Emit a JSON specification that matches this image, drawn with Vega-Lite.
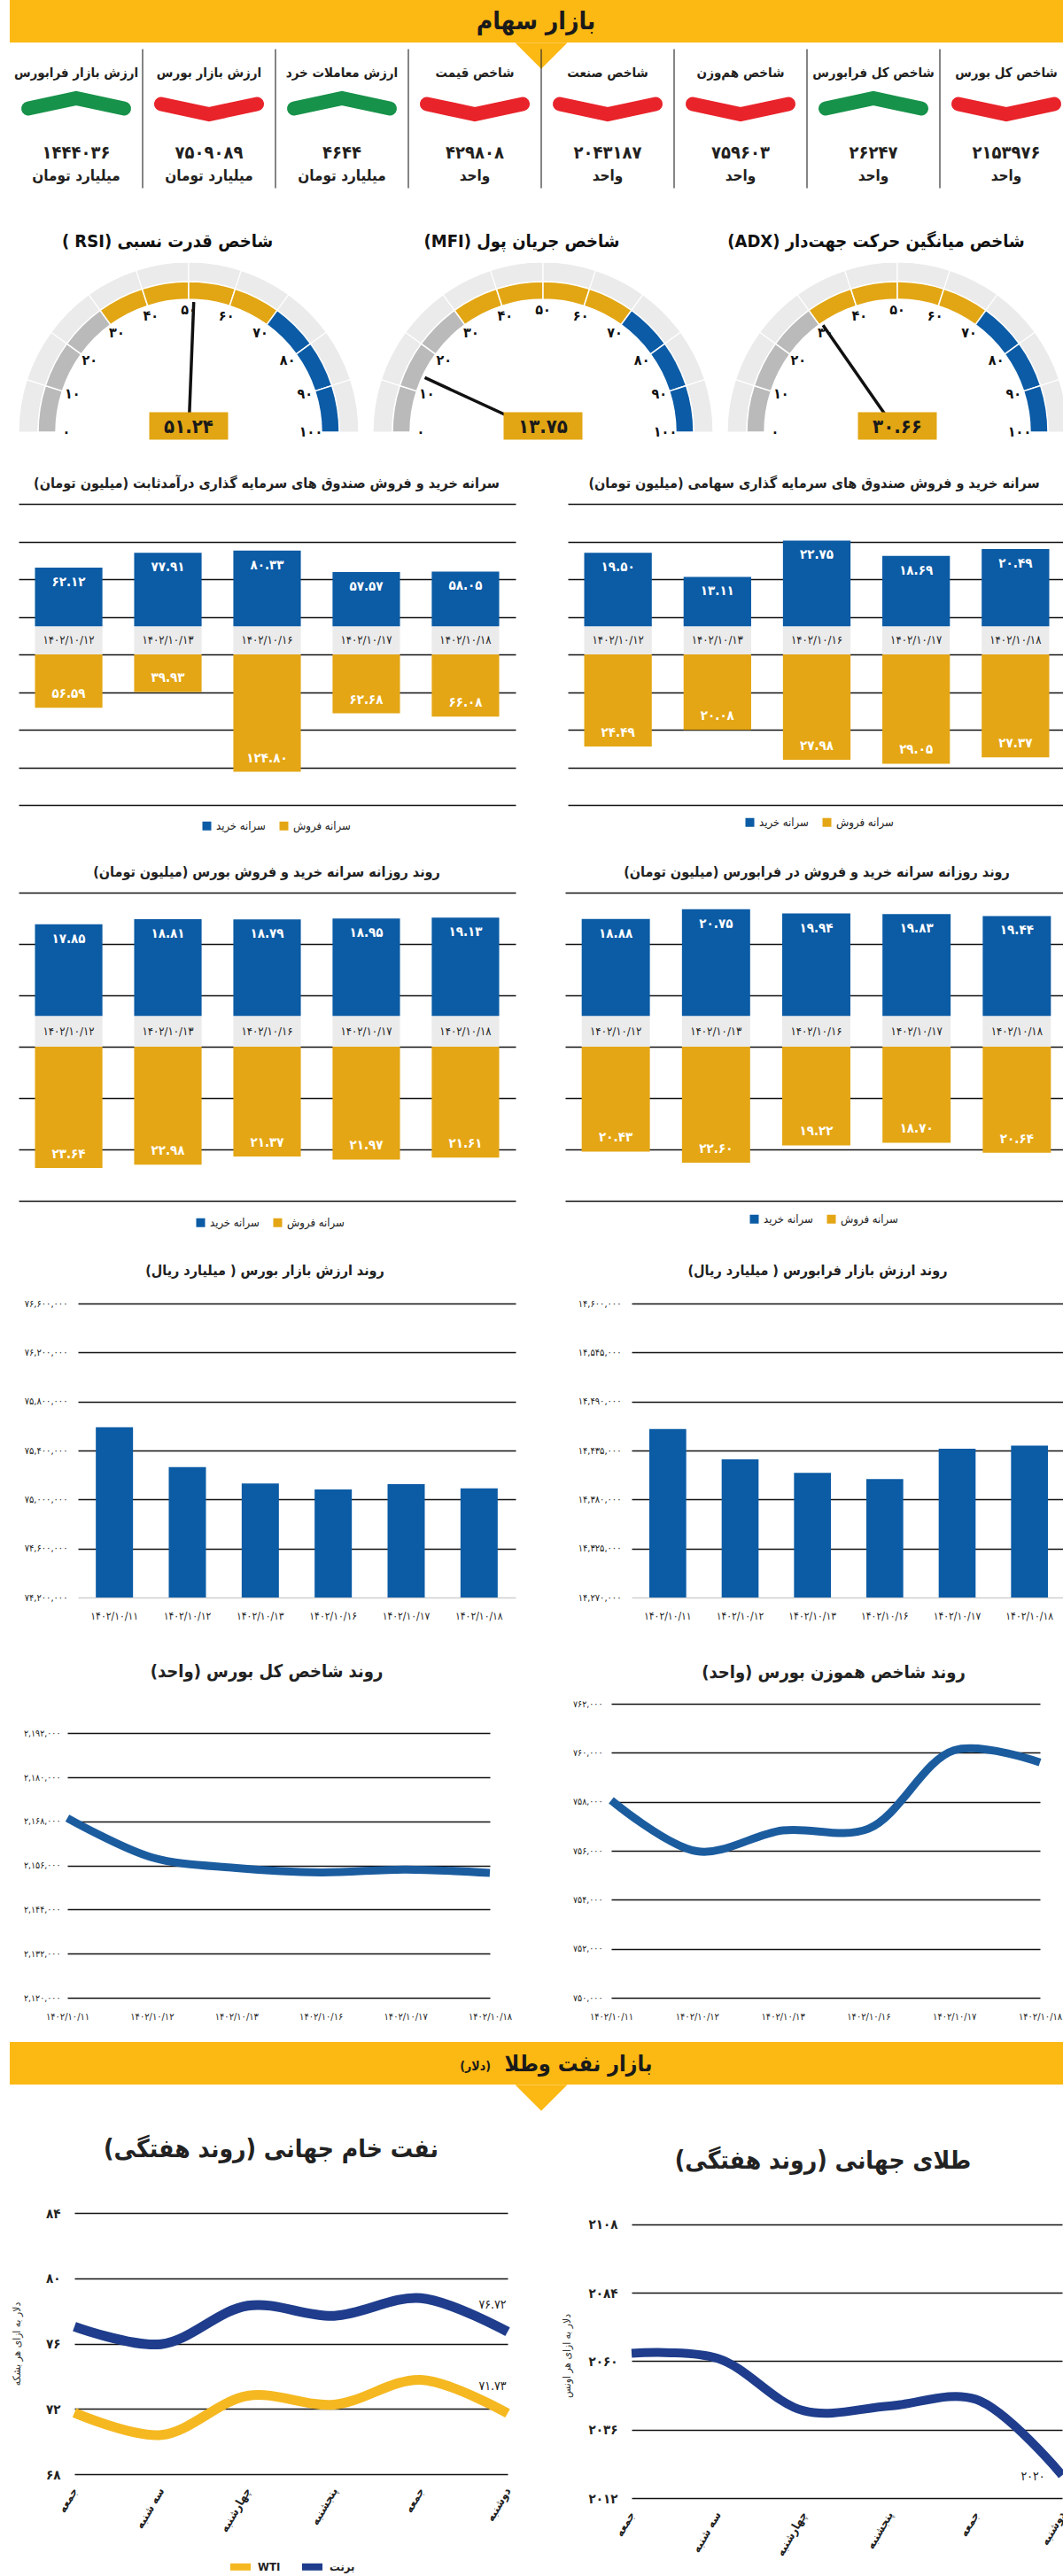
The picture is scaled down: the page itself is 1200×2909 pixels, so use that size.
{
 "$schema": "https://vega.github.io/schema/vega-lite/v6.json",
 "background": "white",
 "padding": 0,
 "columns": 2,
 "spacing": 0,
 "bounds": "flush",
 "align": {"row": "each", "column": "each"},
 "resolve": {"scale": {"color": "independent", "shape": "independent"}},
 "datasets": {
  "ind": [
   {"n": "ارزش بازار فرابورس", "v": 1444036, "u": "میلیارد تومان", "dir": "up"},
   {"n": "ارزش بازار بورس", "v": 7509089, "u": "میلیارد تومان", "dir": "down"},
   {"n": "ارزش معاملات خرد", "v": 4644, "u": "میلیارد تومان", "dir": "up"},
   {"n": "شاخص قیمت", "v": 429808, "u": "واحد", "dir": "down"},
   {"n": "شاخص صنعت", "v": 2043187, "u": "واحد", "dir": "down"},
   {"n": "شاخص هم‌وزن", "v": 759603, "u": "واحد", "dir": "down"},
   {"n": "شاخص کل فرابورس", "v": 26247, "u": "واحد", "dir": "up"},
   {"n": "شاخص کل بورس", "v": 2153976, "u": "واحد", "dir": "down"}
  ],
  "seg": [
   {"a": 0, "b": 10, "zone": "low", "g": ["RSI", "MFI", "ADX"]},
   {"a": 10, "b": 20, "zone": "low", "g": ["RSI", "MFI", "ADX"]},
   {"a": 20, "b": 30, "zone": "low", "g": ["RSI", "MFI", "ADX"]},
   {"a": 30, "b": 40, "zone": "mid", "g": ["RSI", "MFI", "ADX"]},
   {"a": 40, "b": 50, "zone": "mid", "g": ["RSI", "MFI", "ADX"]},
   {"a": 50, "b": 60, "zone": "mid", "g": ["RSI", "MFI", "ADX"]},
   {"a": 60, "b": 70, "zone": "mid", "g": ["RSI", "MFI", "ADX"]},
   {"a": 70, "b": 80, "zone": "high", "g": ["RSI", "MFI", "ADX"]},
   {"a": 80, "b": 90, "zone": "high", "g": ["RSI", "MFI", "ADX"]},
   {"a": 90, "b": 100, "zone": "high", "g": ["RSI", "MFI", "ADX"]}
  ],
  "ticks": [
   {"t": 0, "g": ["RSI", "MFI", "ADX"]}, {"t": 10, "g": ["RSI", "MFI", "ADX"]},
   {"t": 20, "g": ["RSI", "MFI", "ADX"]}, {"t": 30, "g": ["RSI", "MFI", "ADX"]},
   {"t": 40, "g": ["RSI", "MFI", "ADX"]}, {"t": 50, "g": ["RSI", "MFI", "ADX"]},
   {"t": 60, "g": ["RSI", "MFI", "ADX"]}, {"t": 70, "g": ["RSI", "MFI", "ADX"]},
   {"t": 80, "g": ["RSI", "MFI", "ADX"]}, {"t": 90, "g": ["RSI", "MFI", "ADX"]},
   {"t": 100, "g": ["RSI", "MFI", "ADX"]}
  ],
  "gauges": [
   {"g": "RSI", "v": 51.24, "title": "( RSI) شاخص قدرت نسبی"},
   {"g": "MFI", "v": 13.75, "title": "(MFI) شاخص جریان پول"},
   {"g": "ADX", "v": 30.66, "title": "(ADX) شاخص میانگین حرکت جهت‌دار"}
  ]
 },
 "concat": [
  {
   "width": 600, "height": 48,
   "data": {"values": [{"t": "بازار سهام"}]},
   "layer": [
    {"mark": {"type": "rect", "color": "#fcb813"},
     "encoding": {
      "x": {"datum": 0, "type": "quantitative", "scale": {"domain": [0, 1], "range": [0, 1200]}, "axis": null},
      "x2": {"datum": 1},
      "y": {"datum": 0, "type": "quantitative", "scale": {"domain": [0, 1]}, "axis": null},
      "y2": {"datum": 1}}},
    {"mark": {"type": "point", "shape": "M-1,-0.5L1,-0.5L0,0.5Z", "size": 3481, "filled": true, "color": "#fcb813", "opacity": 1},
     "encoding": {"x": {"datum": 0.5, "type": "quantitative"}, "y": {"datum": -0.31, "type": "quantitative"}}},
    {"mark": {"type": "text", "fontSize": 28, "fontWeight": "bold", "color": "#1a1a1a", "baseline": "middle"},
     "encoding": {"x": {"datum": 0.495, "type": "quantitative"}, "y": {"datum": 0.47, "type": "quantitative"}, "text": {"field": "t"}}}
   ]
  },
  {"width": 0, "height": 0, "data": {"values": []}, "mark": "point"},

  {
   "width": 600, "height": 187,
   "data": {"name": "ind"},
   "layer": [
    {"transform": [{"filter": "datum.n != 'ارزش بازار فرابورس'"}],
     "mark": {"type": "rule", "color": "#333333", "strokeWidth": 1.2},
     "encoding": {
      "x": {"field": "n", "type": "nominal", "bandPosition": 0, "scale": {"domain": ["ارزش بازار فرابورس", "ارزش بازار بورس", "ارزش معاملات خرد", "شاخص قیمت", "شاخص صنعت", "شاخص هم‌وزن", "شاخص کل فرابورس", "شاخص کل بورس"], "range": [0, 1200], "paddingInner": 0, "paddingOuter": 0}, "axis": null},
      "y": {"datum": 8, "type": "quantitative", "scale": {"domain": [187, 0]}, "axis": null},
      "y2": {"datum": 176}}},
    {"mark": {"type": "text", "fontSize": 15, "fontWeight": "bold", "color": "#231f20", "baseline": "middle"},
     "encoding": {
      "x": {"field": "n", "type": "nominal"},
      "y": {"datum": 36, "type": "quantitative"},
      "text": {"field": "n"}}},
    {"mark": {"type": "point", "size": 15625, "filled": false, "strokeWidth": 16, "strokeCap": "round", "strokeJoin": "miter", "opacity": 1},
     "encoding": {
      "x": {"field": "n", "type": "nominal"},
      "y": {"datum": 77, "type": "quantitative"},
      "shape": {"field": "dir", "type": "nominal", "scale": {"domain": ["down", "up"], "range": ["M-0.864,-0.04L0,0.144L0.864,-0.04", "M-0.864,0.04L0,-0.144L0.864,0.04"]}, "legend": null},
      "color": {"field": "dir", "type": "nominal", "scale": {"domain": ["down", "up"], "range": ["#e8232a", "#17924a"]}, "legend": null}}},
    {"mark": {"type": "text", "fontSize": 20, "fontWeight": "bold", "color": "#231f20", "baseline": "middle"},
     "encoding": {
      "x": {"field": "n", "type": "nominal"},
      "y": {"datum": 134, "type": "quantitative"},
      "text": {"field": "v", "type": "quantitative", "format": "d"}}},
    {"mark": {"type": "text", "fontSize": 17, "fontWeight": "bold", "color": "#231f20", "baseline": "middle"},
     "encoding": {
      "x": {"field": "n", "type": "nominal"},
      "y": {"datum": 162, "type": "quantitative"},
      "text": {"field": "u"}}}
   ]
  },
  {"width": 0, "height": 0, "data": {"values": []}, "mark": "point"},

  {
   "width": 600, "height": 253,
   "layer": [
    {"data": {"name": "seg"}, "transform": [{"flatten": ["g"]}],
     "mark": {"type": "arc", "radius": 192, "radius2": 170, "fill": "#ebebeb", "stroke": "#ffffff", "strokeWidth": 1.2},
     "encoding": {
      "x": {"field": "g", "type": "nominal", "scale": {"type": "point", "domain": ["RSI", "MFI", "ADX"], "range": [202, 1002], "padding": 0}, "axis": null},
      "y": {"datum": 0, "type": "quantitative", "scale": {"domain": [0, 1]}, "axis": null},
      "theta": {"field": "a", "type": "quantitative", "stack": null, "scale": {"domain": [0, 100], "range": [-1.5708, 1.5708]}},
      "theta2": {"field": "b"}}},
    {"data": {"name": "seg"}, "transform": [{"flatten": ["g"]}],
     "mark": {"type": "arc", "radius": 170, "radius2": 150, "stroke": "#ffffff", "strokeWidth": 1.5},
     "encoding": {
      "x": {"field": "g", "type": "nominal"},
      "y": {"datum": 0, "type": "quantitative"},
      "theta": {"field": "a", "type": "quantitative", "stack": null},
      "theta2": {"field": "b"},
      "color": {"field": "zone", "type": "nominal", "scale": {"domain": ["low", "mid", "high"], "range": ["#bababa", "#e2a614", "#0b5ba6"]}, "legend": null}}},
    {"data": {"name": "ticks"}, "transform": [{"flatten": ["g"]}],
     "mark": {"type": "text", "radius": 138, "fontSize": 16, "fontWeight": "bold", "color": "#111111", "baseline": "middle"},
     "encoding": {
      "x": {"field": "g", "type": "nominal"},
      "y": {"datum": 0, "type": "quantitative"},
      "theta": {"field": "t", "type": "quantitative", "stack": null},
      "text": {"field": "t", "type": "quantitative", "format": "d"}}},
    {"data": {"name": "gauges"},
     "mark": {"type": "arc", "radius": 147, "radius2": 0, "stroke": "#111111", "strokeWidth": 3.5, "fill": "#111111"},
     "encoding": {
      "x": {"field": "g", "type": "nominal"},
      "y": {"datum": 0, "type": "quantitative"},
      "theta": {"field": "v", "type": "quantitative", "stack": null},
      "theta2": {"field": "v"}}},
    {"data": {"name": "gauges"},
     "mark": {"type": "point", "shape": "M-1,-0.35L1,-0.35L1,0.35L-1,0.35Z", "size": 7921, "filled": true, "color": "#e2a614", "opacity": 1, "yOffset": -7},
     "encoding": {
      "x": {"field": "g", "type": "nominal"},
      "y": {"datum": 0, "type": "quantitative"}}},
    {"data": {"name": "gauges"},
     "mark": {"type": "text", "fontSize": 22, "fontWeight": "bold", "color": "#1a1a1a", "baseline": "middle", "yOffset": -6},
     "encoding": {
      "x": {"field": "g", "type": "nominal"},
      "y": {"datum": 0, "type": "quantitative"},
      "text": {"field": "v", "type": "quantitative", "format": ".2f"}}},
    {"data": {"name": "gauges"},
     "mark": {"type": "text", "radius": 215, "dx": -24, "fontSize": 20, "fontWeight": "bold", "color": "#111111", "baseline": "middle"},
     "encoding": {
      "x": {"field": "g", "type": "nominal"},
      "y": {"datum": 0, "type": "quantitative"},
      "theta": {"datum": 50, "type": "quantitative"},
      "text": {"field": "title"}}}
   ]
  },
  {"width": 0, "height": 0, "data": {"values": []}, "mark": "point"},

  {"width": 0, "height": 81, "data": {"values": []}, "mark": "point"},
  {"width": 0, "height": 0, "data": {"values": []}, "mark": "point"},

  {
   "width": 600, "height": 340,
   "title": {"text": "‏سرانه خرید و فروش صندوق های سرمایه گذاری درآمدثابت (میلیون تومان)‏", "offset": 15, "dx": -10, "fontSize": 16},
   "data": {"values": [
    {"d": "۱۴۰۲/۱۰/۱۲", "buy": 62.12, "sell": 56.59},
    {"d": "۱۴۰۲/۱۰/۱۳", "buy": 77.91, "sell": 39.93},
    {"d": "۱۴۰۲/۱۰/۱۶", "buy": 80.33, "sell": 124.80},
    {"d": "۱۴۰۲/۱۰/۱۷", "buy": 57.57, "sell": 62.68},
    {"d": "۱۴۰۲/۱۰/۱۸", "buy": 58.05, "sell": 66.08}
   ]},
   "encoding": {"x": {"field": "d", "type": "ordinal", "sort": null, "scale": {"range": [10, 571], "paddingInner": 0.32, "paddingOuter": 0.165}, "axis": null}},
   "layer": [
    {"encoding": {"y": {"field": "sell", "type": "quantitative", "scale": {"domain": [-160, 160], "reverse": true, "nice": false, "zero": false}, "axis": {"grid": true, "values": [-160, -120, -80, -40, 0, 40, 80, 120, 160], "labels": false, "ticks": false, "domain": false, "title": null}}},
     "layer": [
      {"mark": {"type": "bar"}, "encoding": {"y2": {"datum": 0}, "color": {"datum": "سرانه فروش", "type": "nominal", "scale": {"domain": ["سرانه خرید", "سرانه فروش"], "range": ["#0b5ba5", "#e4a615"]}, "legend": {"orient": "none", "legendX": 216, "legendY": 357, "direction": "horizontal", "title": null, "symbolType": "square", "symbolSize": 100, "symbolStrokeWidth": 0, "labelFontSize": 13, "columnPadding": 14}}}},
      {"mark": {"type": "text", "color": "white", "fontWeight": "bold", "fontSize": 15, "baseline": "middle", "dy": -16}, "encoding": {"text": {"field": "sell", "type": "quantitative", "format": ".2f"}}}
     ]},
    {"encoding": {"y": {"field": "buy", "type": "quantitative", "scale": {"domain": [-190, 130], "nice": false, "zero": false}, "axis": null}},
     "layer": [
      {"mark": {"type": "bar", "color": "#ebebeb"}, "encoding": {"y": {"datum": 0, "type": "quantitative"}, "y2": {"datum": -30}}},
      {"mark": {"type": "text", "fontSize": 13, "color": "#222222", "baseline": "middle"}, "encoding": {"y": {"datum": -15, "type": "quantitative"}, "text": {"field": "d"}}},
      {"mark": {"type": "bar"}, "encoding": {"y2": {"datum": 0}, "color": {"datum": "سرانه خرید", "type": "nominal", "scale": {"domain": ["سرانه خرید", "سرانه فروش"], "range": ["#0b5ba5", "#e4a615"]}, "legend": {"orient": "none", "legendX": 216, "legendY": 357, "direction": "horizontal", "title": null, "symbolType": "square", "symbolSize": 100, "symbolStrokeWidth": 0, "labelFontSize": 13, "columnPadding": 14}}}},
      {"mark": {"type": "text", "color": "white", "fontWeight": "bold", "fontSize": 15, "baseline": "middle", "dy": 16}, "encoding": {"text": {"field": "buy", "type": "quantitative", "format": ".2f"}}}
     ]}
   ],
   "resolve": {"scale": {"y": "independent"}}
  },
  {
   "width": 600, "height": 340,
   "title": {"text": "‏سرانه خرید و فروش صندوق های سرمایه گذاری سهامی (میلیون تومان)‏", "offset": 15, "dx": 8, "fontSize": 16},
   "data": {"values": [
    {"d": "۱۴۰۲/۱۰/۱۲", "buy": 19.50, "sell": 24.49},
    {"d": "۱۴۰۲/۱۰/۱۳", "buy": 13.11, "sell": 20.08},
    {"d": "۱۴۰۲/۱۰/۱۶", "buy": 22.75, "sell": 27.98},
    {"d": "۱۴۰۲/۱۰/۱۷", "buy": 18.69, "sell": 29.05},
    {"d": "۱۴۰۲/۱۰/۱۸", "buy": 20.49, "sell": 27.37}
   ]},
   "encoding": {"x": {"field": "d", "type": "ordinal", "sort": null, "scale": {"range": [30, 592], "paddingInner": 0.32, "paddingOuter": 0.165}, "axis": null}},
   "layer": [
    {"encoding": {"y": {"field": "sell", "type": "quantitative", "scale": {"domain": [-40, 40], "reverse": true, "nice": false, "zero": false}, "axis": {"grid": true, "values": [-40, -30, -20, -10, 0, 10, 20, 30, 40], "labels": false, "ticks": false, "domain": false, "title": null}}},
     "layer": [
      {"mark": {"type": "bar"}, "encoding": {"y2": {"datum": 0}, "color": {"datum": "سرانه فروش", "type": "nominal", "scale": {"domain": ["سرانه خرید", "سرانه فروش"], "range": ["#0b5ba5", "#e4a615"]}, "legend": {"orient": "none", "legendX": 229, "legendY": 353, "direction": "horizontal", "title": null, "symbolType": "square", "symbolSize": 100, "symbolStrokeWidth": 0, "labelFontSize": 13, "columnPadding": 14}}}},
      {"mark": {"type": "text", "color": "white", "fontWeight": "bold", "fontSize": 15, "baseline": "middle", "dy": -16}, "encoding": {"text": {"field": "sell", "type": "quantitative", "format": ".2f"}}}
     ]},
    {"encoding": {"y": {"field": "buy", "type": "quantitative", "scale": {"domain": [-47.5, 32.5], "nice": false, "zero": false}, "axis": null}},
     "layer": [
      {"mark": {"type": "bar", "color": "#ebebeb"}, "encoding": {"y": {"datum": 0, "type": "quantitative"}, "y2": {"datum": -7.5}}},
      {"mark": {"type": "text", "fontSize": 13, "color": "#222222", "baseline": "middle"}, "encoding": {"y": {"datum": -3.75, "type": "quantitative"}, "text": {"field": "d"}}},
      {"mark": {"type": "bar"}, "encoding": {"y2": {"datum": 0}, "color": {"datum": "سرانه خرید", "type": "nominal", "scale": {"domain": ["سرانه خرید", "سرانه فروش"], "range": ["#0b5ba5", "#e4a615"]}, "legend": {"orient": "none", "legendX": 229, "legendY": 353, "direction": "horizontal", "title": null, "symbolType": "square", "symbolSize": 100, "symbolStrokeWidth": 0, "labelFontSize": 13, "columnPadding": 14}}}},
      {"mark": {"type": "text", "color": "white", "fontWeight": "bold", "fontSize": 15, "baseline": "middle", "dy": 16}, "encoding": {"text": {"field": "buy", "type": "quantitative", "format": ".2f"}}}
     ]}
   ],
   "resolve": {"scale": {"y": "independent"}}
  },

  {"width": 0, "height": 99, "data": {"values": []}, "mark": "point"},
  {"width": 0, "height": 0, "data": {"values": []}, "mark": "point"},

  {
   "width": 600, "height": 348,
   "title": {"text": "‏روند روزانه سرانه خرید و فروش بورس (میلیون تومان)‏", "offset": 15, "dx": -10, "fontSize": 16},
   "data": {"values": [
    {"d": "۱۴۰۲/۱۰/۱۲", "buy": 17.85, "sell": 23.64},
    {"d": "۱۴۰۲/۱۰/۱۳", "buy": 18.81, "sell": 22.98},
    {"d": "۱۴۰۲/۱۰/۱۶", "buy": 18.79, "sell": 21.37},
    {"d": "۱۴۰۲/۱۰/۱۷", "buy": 18.95, "sell": 21.97},
    {"d": "۱۴۰۲/۱۰/۱۸", "buy": 19.13, "sell": 21.61}
   ]},
   "encoding": {"x": {"field": "d", "type": "ordinal", "sort": null, "scale": {"range": [10, 571], "paddingInner": 0.32, "paddingOuter": 0.165}, "axis": null}},
   "layer": [
    {"encoding": {"y": {"field": "sell", "type": "quantitative", "scale": {"domain": [-30, 30], "reverse": true, "nice": false, "zero": false}, "axis": {"grid": true, "values": [-30, -20, -10, 0, 10, 20, 30], "labels": false, "ticks": false, "domain": false, "title": null}}},
     "layer": [
      {"mark": {"type": "bar"}, "encoding": {"y2": {"datum": 0}, "color": {"datum": "سرانه فروش", "type": "nominal", "scale": {"domain": ["سرانه خرید", "سرانه فروش"], "range": ["#0b5ba5", "#e4a615"]}, "legend": {"orient": "none", "legendX": 209, "legendY": 366, "direction": "horizontal", "title": null, "symbolType": "square", "symbolSize": 100, "symbolStrokeWidth": 0, "labelFontSize": 13, "columnPadding": 14}}}},
      {"mark": {"type": "text", "color": "white", "fontWeight": "bold", "fontSize": 15, "baseline": "middle", "dy": -16}, "encoding": {"text": {"field": "sell", "type": "quantitative", "format": ".2f"}}}
     ]},
    {"encoding": {"y": {"field": "buy", "type": "quantitative", "scale": {"domain": [-36, 24], "nice": false, "zero": false}, "axis": null}},
     "layer": [
      {"mark": {"type": "bar", "color": "#ebebeb"}, "encoding": {"y": {"datum": 0, "type": "quantitative"}, "y2": {"datum": -6}}},
      {"mark": {"type": "text", "fontSize": 13, "color": "#222222", "baseline": "middle"}, "encoding": {"y": {"datum": -3, "type": "quantitative"}, "text": {"field": "d"}}},
      {"mark": {"type": "bar"}, "encoding": {"y2": {"datum": 0}, "color": {"datum": "سرانه خرید", "type": "nominal", "scale": {"domain": ["سرانه خرید", "سرانه فروش"], "range": ["#0b5ba5", "#e4a615"]}, "legend": {"orient": "none", "legendX": 209, "legendY": 366, "direction": "horizontal", "title": null, "symbolType": "square", "symbolSize": 100, "symbolStrokeWidth": 0, "labelFontSize": 13, "columnPadding": 14}}}},
      {"mark": {"type": "text", "color": "white", "fontWeight": "bold", "fontSize": 15, "baseline": "middle", "dy": 16}, "encoding": {"text": {"field": "buy", "type": "quantitative", "format": ".2f"}}}
     ]}
   ],
   "resolve": {"scale": {"y": "independent"}}
  },
  {
   "width": 600, "height": 348,
   "title": {"text": "‏روند روزانه سرانه خرید و فروش در فرابورس (میلیون تومان)‏", "offset": 15, "dx": 11, "fontSize": 16},
   "data": {"values": [
    {"d": "۱۴۰۲/۱۰/۱۲", "buy": 18.88, "sell": 20.43},
    {"d": "۱۴۰۲/۱۰/۱۳", "buy": 20.75, "sell": 22.60},
    {"d": "۱۴۰۲/۱۰/۱۶", "buy": 19.94, "sell": 19.22},
    {"d": "۱۴۰۲/۱۰/۱۷", "buy": 19.83, "sell": 18.70},
    {"d": "۱۴۰۲/۱۰/۱۸", "buy": 19.44, "sell": 20.64}
   ]},
   "encoding": {"x": {"field": "d", "type": "ordinal", "sort": null, "scale": {"range": [27, 594], "paddingInner": 0.32, "paddingOuter": 0.165}, "axis": null}},
   "layer": [
    {"encoding": {"y": {"field": "sell", "type": "quantitative", "scale": {"domain": [-30, 30], "reverse": true, "nice": false, "zero": false}, "axis": {"grid": true, "values": [-30, -20, -10, 0, 10, 20, 30], "labels": false, "ticks": false, "domain": false, "title": null}}},
     "layer": [
      {"mark": {"type": "bar"}, "encoding": {"y2": {"datum": 0}, "color": {"datum": "سرانه فروش", "type": "nominal", "scale": {"domain": ["سرانه خرید", "سرانه فروش"], "range": ["#0b5ba5", "#e4a615"]}, "legend": {"orient": "none", "legendX": 234, "legendY": 362, "direction": "horizontal", "title": null, "symbolType": "square", "symbolSize": 100, "symbolStrokeWidth": 0, "labelFontSize": 13, "columnPadding": 14}}}},
      {"mark": {"type": "text", "color": "white", "fontWeight": "bold", "fontSize": 15, "baseline": "middle", "dy": -16}, "encoding": {"text": {"field": "sell", "type": "quantitative", "format": ".2f"}}}
     ]},
    {"encoding": {"y": {"field": "buy", "type": "quantitative", "scale": {"domain": [-36, 24], "nice": false, "zero": false}, "axis": null}},
     "layer": [
      {"mark": {"type": "bar", "color": "#ebebeb"}, "encoding": {"y": {"datum": 0, "type": "quantitative"}, "y2": {"datum": -6}}},
      {"mark": {"type": "text", "fontSize": 13, "color": "#222222", "baseline": "middle"}, "encoding": {"y": {"datum": -3, "type": "quantitative"}, "text": {"field": "d"}}},
      {"mark": {"type": "bar"}, "encoding": {"y2": {"datum": 0}, "color": {"datum": "سرانه خرید", "type": "nominal", "scale": {"domain": ["سرانه خرید", "سرانه فروش"], "range": ["#0b5ba5", "#e4a615"]}, "legend": {"orient": "none", "legendX": 234, "legendY": 362, "direction": "horizontal", "title": null, "symbolType": "square", "symbolSize": 100, "symbolStrokeWidth": 0, "labelFontSize": 13, "columnPadding": 14}}}},
      {"mark": {"type": "text", "color": "white", "fontWeight": "bold", "fontSize": 15, "baseline": "middle", "dy": 16}, "encoding": {"text": {"field": "buy", "type": "quantitative", "format": ".2f"}}}
     ]}
   ],
   "resolve": {"scale": {"y": "independent"}}
  },

  {"width": 0, "height": 116, "data": {"values": []}, "mark": "point"},
  {"width": 0, "height": 0, "data": {"values": []}, "mark": "point"},

  {
   "width": 600, "height": 332,
   "title": {"text": "‏روند ارزش بازار بورس ( میلیارد ریال)‏", "offset": 23, "dx": -12, "fontSize": 16},
   "data": {"values": [
    {"d": "۱۴۰۲/۱۰/۱۱", "v": 75589000},
    {"d": "۱۴۰۲/۱۰/۱۲", "v": 75264000},
    {"d": "۱۴۰۲/۱۰/۱۳", "v": 75131000},
    {"d": "۱۴۰۲/۱۰/۱۶", "v": 75082000},
    {"d": "۱۴۰۲/۱۰/۱۷", "v": 75126000},
    {"d": "۱۴۰۲/۱۰/۱۸", "v": 75090890}
   ]},
   "mark": {"type": "bar", "color": "#0b5ba5"},
   "encoding": {
    "x": {"field": "d", "type": "ordinal", "sort": null, "scale": {"range": [77, 571], "paddingInner": 0.49, "paddingOuter": 0.245}, "axis": {"title": null, "labelAngle": 0, "labelPadding": 15, "labelFontSize": 12}},
    "y": {"field": "v", "type": "quantitative", "scale": {"domain": [74200000, 76600000], "zero": false, "nice": false}, "axis": {"title": null, "offset": -77, "values": [74200000, 74600000, 75000000, 75400000, 75800000, 76200000, 76600000], "grid": true, "gridColor": {"condition": {"test": "datum.value == 74200000", "value": "#d0d0d0"}, "value": "#111111"}, "format": ",.0f", "labelPadding": 12, "labelFontSize": 11}},
    "y2": {"datum": 74200000}
   }
  },
  {
   "width": 600, "height": 332,
   "title": {"text": "‏روند ارزش بازار فرابورس ( میلیارد ریال)‏", "offset": 23, "dx": 12, "fontSize": 16},
   "data": {"values": [
    {"d": "۱۴۰۲/۱۰/۱۱", "v": 14459000},
    {"d": "۱۴۰۲/۱۰/۱۲", "v": 14425000},
    {"d": "۱۴۰۲/۱۰/۱۳", "v": 14410000},
    {"d": "۱۴۰۲/۱۰/۱۶", "v": 14403000},
    {"d": "۱۴۰۲/۱۰/۱۷", "v": 14437000},
    {"d": "۱۴۰۲/۱۰/۱۸", "v": 14440360}
   ]},
   "mark": {"type": "bar", "color": "#0b5ba5"},
   "encoding": {
    "x": {"field": "d", "type": "ordinal", "sort": null, "scale": {"range": [102, 592], "paddingInner": 0.49, "paddingOuter": 0.245}, "axis": {"title": null, "labelAngle": 0, "labelPadding": 15, "labelFontSize": 12}},
    "y": {"field": "v", "type": "quantitative", "scale": {"domain": [14270000, 14600000], "zero": false, "nice": false}, "axis": {"title": null, "offset": -102, "values": [14270000, 14325000, 14380000, 14435000, 14490000, 14545000, 14600000], "grid": true, "gridColor": {"condition": {"test": "datum.value == 14270000", "value": "#d0d0d0"}, "value": "#111111"}, "format": ",.0f", "labelPadding": 12, "labelFontSize": 11}},
    "y2": {"datum": 14270000}
   }
  },

  {"width": 0, "height": 120, "data": {"values": []}, "mark": "point"},
  {"width": 0, "height": 0, "data": {"values": []}, "mark": "point"},

  {
   "width": 600, "height": 332,
   "title": {"text": "‏روند شاخص کل بورس (واحد)‏", "offset": 26, "dx": -10, "fontSize": 20},
   "data": {"values": [
    {"d": "۱۴۰۲/۱۰/۱۱", "v": 2168900},
    {"d": "۱۴۰۲/۱۰/۱۲", "v": 2158200},
    {"d": "۱۴۰۲/۱۰/۱۳", "v": 2155300},
    {"d": "۱۴۰۲/۱۰/۱۶", "v": 2154100},
    {"d": "۱۴۰۲/۱۰/۱۷", "v": 2154900},
    {"d": "۱۴۰۲/۱۰/۱۸", "v": 2153976}
   ]},
   "mark": {"type": "line", "interpolate": "catmull-rom", "strokeWidth": 9, "color": "#1b5c9f"},
   "encoding": {
    "x": {"field": "d", "type": "ordinal", "sort": null, "scale": {"type": "point", "range": [65, 542], "padding": 0}, "axis": {"title": null, "labelAngle": 0, "labelPadding": 15, "labelFontSize": 11}},
    "y": {"field": "v", "type": "quantitative", "scale": {"domain": [2120000, 2200000], "zero": false, "nice": false}, "axis": {"title": null, "offset": -65, "values": [2120000, 2132000, 2144000, 2156000, 2168000, 2180000, 2192000], "grid": true, "format": ",.0f", "labelPadding": 8, "labelFontSize": 10.5}}
   }
  },
  {
   "width": 600, "height": 332,
   "title": {"text": "‏روند شاخص هموزن بورس (واحد)‏", "offset": 20, "dx": 30, "fontSize": 20},
   "data": {"values": [
    {"d": "۱۴۰۲/۱۰/۱۱", "v": 758060},
    {"d": "۱۴۰۲/۱۰/۱۲", "v": 755980},
    {"d": "۱۴۰۲/۱۰/۱۳", "v": 756830},
    {"d": "۱۴۰۲/۱۰/۱۶", "v": 756900},
    {"d": "۱۴۰۲/۱۰/۱۷", "v": 760100},
    {"d": "۱۴۰۲/۱۰/۱۸", "v": 759603}
   ]},
   "mark": {"type": "line", "interpolate": "catmull-rom", "strokeWidth": 9, "color": "#1b5c9f"},
   "encoding": {
    "x": {"field": "d", "type": "ordinal", "sort": null, "scale": {"type": "point", "range": [79, 563], "padding": 0}, "axis": {"title": null, "labelAngle": 0, "labelPadding": 15, "labelFontSize": 11}},
    "y": {"field": "v", "type": "quantitative", "scale": {"domain": [750000, 762000], "zero": false, "nice": false}, "axis": {"title": null, "offset": -79, "values": [750000, 752000, 754000, 756000, 758000, 760000, 762000], "grid": true, "format": ",.0f", "labelPadding": 10, "labelFontSize": 10.5}}
   }
  },

  {"width": 0, "height": 50, "data": {"values": []}, "mark": "point"},
  {"width": 0, "height": 0, "data": {"values": []}, "mark": "point"},

  {
   "width": 600, "height": 48,
   "data": {"values": [{"t": "بازار نفت وطلا", "s": "‏(دلار)‏"}]},
   "layer": [
    {"mark": {"type": "rect", "color": "#fcb813"},
     "encoding": {
      "x": {"datum": 0, "type": "quantitative", "scale": {"domain": [0, 1], "range": [0, 1200]}, "axis": null},
      "x2": {"datum": 1},
      "y": {"datum": 0, "type": "quantitative", "scale": {"domain": [0, 1]}, "axis": null},
      "y2": {"datum": 1}}},
    {"mark": {"type": "point", "shape": "M-1,-0.5L1,-0.5L0,0.5Z", "size": 3481, "filled": true, "color": "#fcb813", "opacity": 1},
     "encoding": {"x": {"datum": 0.5, "type": "quantitative"}, "y": {"datum": -0.31, "type": "quantitative"}}},
    {"mark": {"type": "text", "fontSize": 25, "fontWeight": "bold", "color": "#1a1a1a", "baseline": "middle"},
     "encoding": {"x": {"datum": 0.535, "type": "quantitative"}, "y": {"datum": 0.47, "type": "quantitative"}, "text": {"field": "t"}}},
    {"mark": {"type": "text", "fontSize": 14, "fontWeight": "bold", "color": "#1a1a1a", "baseline": "middle"},
     "encoding": {"x": {"datum": 0.438, "type": "quantitative"}, "y": {"datum": 0.42, "type": "quantitative"}, "text": {"field": "s"}}}
   ]
  },
  {"width": 0, "height": 0, "data": {"values": []}, "mark": "point"},

  {"width": 0, "height": 145, "data": {"values": []}, "mark": "point"},
  {"width": 0, "height": 0, "data": {"values": []}, "mark": "point"},

  {
   "width": 600, "height": 295,
   "title": {"text": "‏نفت خام جهانی (روند هفتگی)‏", "offset": 50, "dx": -5, "fontSize": 28},
   "data": {"values": [
    {"day": "جمعه", "k": "برنت", "v": 77.04},
    {"day": "سه شنبه", "k": "برنت", "v": 75.96},
    {"day": "چهارشنبه", "k": "برنت", "v": 78.32},
    {"day": "پنجشنبه", "k": "برنت", "v": 77.70},
    {"day": "جمعه‌", "k": "برنت", "v": 78.78},
    {"day": "دوشنبه", "k": "برنت", "v": 76.72},
    {"day": "جمعه", "k": "WTI", "v": 71.76},
    {"day": "سه شنبه", "k": "WTI", "v": 70.40},
    {"day": "چهارشنبه", "k": "WTI", "v": 72.80},
    {"day": "پنجشنبه", "k": "WTI", "v": 72.26},
    {"day": "جمعه‌", "k": "WTI", "v": 73.78},
    {"day": "دوشنبه", "k": "WTI", "v": 71.73}
   ]},
   "encoding": {
    "x": {"field": "day", "type": "ordinal", "sort": null, "scale": {"type": "point", "range": [73, 562], "padding": 0}, "axis": {"title": null, "labelAngle": -60, "labelAlign": "right", "labelBaseline": "middle", "labelPadding": 16, "labelFontSize": 13, "labelFontWeight": "bold"}},
    "y": {"field": "v", "type": "quantitative", "scale": {"domain": [68, 84], "zero": false, "nice": false}, "axis": {"offset": -73, "values": [68, 72, 76, 80, 84], "grid": true, "title": "دلار به ازای هر بشکه", "titleFontSize": 12, "titleFontWeight": "normal", "titlePadding": 26, "labelPadding": 16, "labelFontSize": 15, "labelFontWeight": "bold"}}
   },
   "layer": [
    {"mark": {"type": "line", "interpolate": "catmull-rom", "strokeWidth": 11},
     "encoding": {"color": {"field": "k", "type": "nominal", "scale": {"domain": ["WTI", "برنت"], "range": ["#f5b820", "#1f3d8c"]}, "legend": {"orient": "none", "legendX": 245, "legendY": 384, "direction": "horizontal", "title": null, "symbolType": "stroke", "symbolSize": 529, "symbolStrokeWidth": 8, "labelFontSize": 13, "labelFontWeight": "bold", "columnPadding": 8}}}},
    {"transform": [{"filter": "datum.day == 'دوشنبه'"}],
     "mark": {"type": "text", "dx": -17, "dy": -30, "fontSize": 14, "color": "#222222"},
     "encoding": {"text": {"field": "v", "type": "quantitative", "format": ".2f"}}}
   ]
  },
  {
   "width": 600, "height": 322,
   "title": {"text": "‏طلای جهانی (روند هفتگی)‏", "offset": 44, "dx": 18, "fontSize": 28},
   "data": {"values": [
    {"day": "جمعه", "v": 2062.8},
    {"day": "سه شنبه", "v": 2061.0},
    {"day": "چهارشنبه", "v": 2042.6},
    {"day": "پنجشنبه", "v": 2044.3},
    {"day": "جمعه‌", "v": 2046.6},
    {"day": "دوشنبه", "v": 2020}
   ]},
   "encoding": {
    "x": {"field": "day", "type": "ordinal", "sort": null, "scale": {"type": "point", "range": [102, 588], "padding": 0}, "axis": {"title": null, "labelAngle": -60, "labelAlign": "right", "labelBaseline": "middle", "labelPadding": 16, "labelFontSize": 13, "labelFontWeight": "bold"}},
    "y": {"field": "v", "type": "quantitative", "scale": {"domain": [2012, 2112], "zero": false, "nice": false}, "axis": {"offset": -102, "values": [2012, 2036, 2060, 2084, 2108], "grid": true, "format": "d", "title": "دلار به ازای هر اونس", "titleFontSize": 12, "titleFontWeight": "normal", "titlePadding": 18, "labelPadding": 16, "labelFontSize": 15, "labelFontWeight": "bold"}}
   },
   "layer": [
    {"mark": {"type": "line", "interpolate": "catmull-rom", "strokeWidth": 10, "color": "#1f3d8c"}},
    {"transform": [{"filter": "datum.day == 'دوشنبه'"}],
     "mark": {"type": "text", "dx": -33, "dy": 2, "fontSize": 14, "color": "#222222"},
     "encoding": {"text": {"field": "v", "type": "quantitative", "format": "d"}}}
   ]
  }
 ],
 "config": {
  "view": {"stroke": null},
  "font": "DejaVu Sans Condensed, DejaVu Sans, sans-serif",
  "locale": {"number": {"decimal": ".", "thousands": ",", "grouping": [3], "currency": ["", ""], "numerals": ["۰", "۱", "۲", "۳", "۴", "۵", "۶", "۷", "۸", "۹"]}},
  "axis": {"labelColor": "#222222", "gridColor": "#111111", "gridWidth": 1.3, "domain": false, "ticks": false, "labelFlush": false, "labelOverlap": false, "titleColor": "#333333"},
  "title": {"fontWeight": "bold", "color": "#222222", "frame": "group", "anchor": "middle"},
  "legend": {"labelColor": "#222222"}
 }
}
